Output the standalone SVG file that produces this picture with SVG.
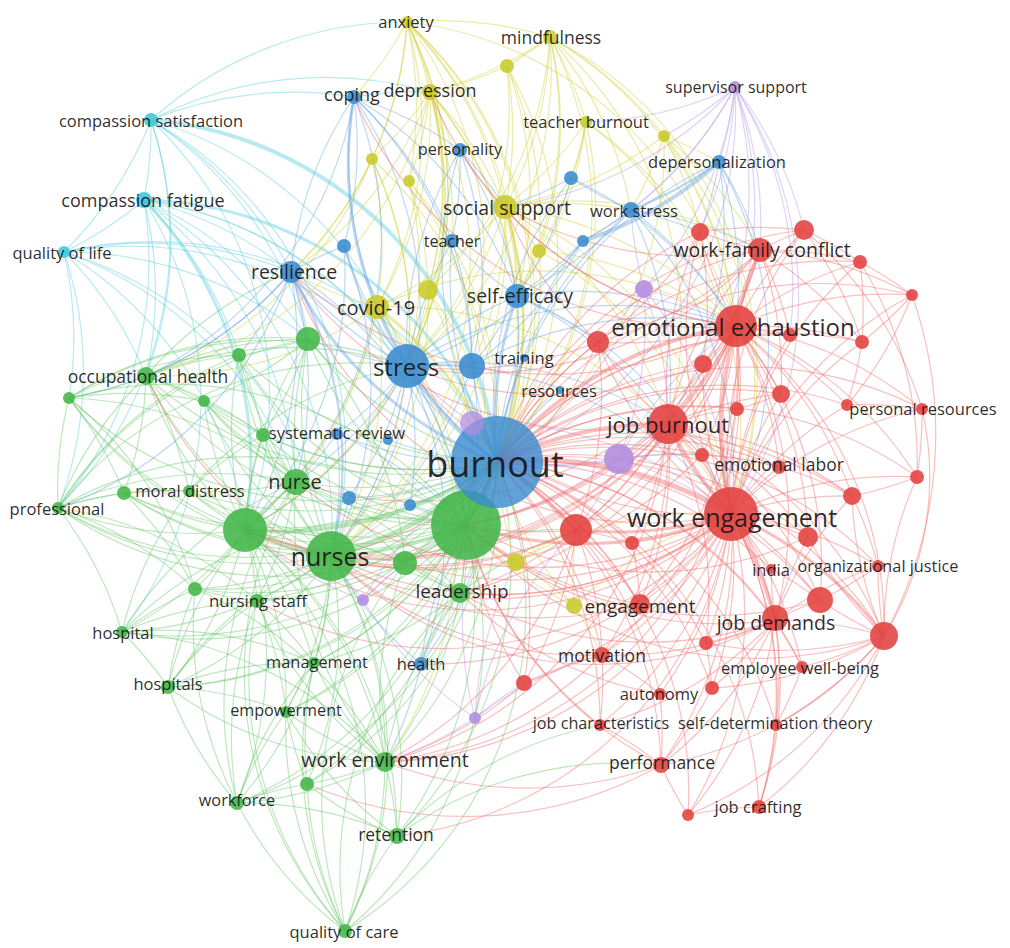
<svg xmlns="http://www.w3.org/2000/svg" width="1010" height="948" viewBox="0 0 1010 948">
<style>
#connectors path{fill:none;stroke-width:1.2;stroke-opacity:.44}
#connectors path.w2{stroke-width:2.2}
#connectors path.w3{stroke-width:3}
#connectors path.w4{stroke-width:4}
#connectors path.w5{stroke-width:5}
.ec path{stroke:#5fcfe0}
.ey path{stroke:#d2d23c}
.ep path{stroke:#b99be6}
.eb path{stroke:#6aa6e2}
.eg path{stroke:#6cc86c}
.er path{stroke:#f26d6d}
circle{fill-opacity:.88}
.nr circle{fill:#e3413f}
.ng circle{fill:#43b649}
.nb circle{fill:#3a8bd0}
.ny circle{fill:#c9c92a}
.np circle{fill:#b08ddf}
.nc circle{fill:#3fc6dc}
text{font-family:"Open Sans","DejaVu Sans",sans-serif;fill:#161616;fill-opacity:.92;text-anchor:middle;dominant-baseline:central}
</style>
<rect width="1010" height="948" fill="#ffffff"/>
<g id="connectors">
<g class="ec">
<path d="M151 120A380 380 0 0 1 144 200"/>
<path d="M151 120A380 380 0 0 1 64 252"/>
<path d="M151 120A380 380 0 0 1 291 272"/>
<path d="M151 120A380 380 0 0 1 407 366"/>
<path d="M151 120A380 380 0 0 1 331 556"/>
<path d="M151 120A380 380 0 0 1 245 530"/>
<path d="M151 120A380 380 0 0 1 146 376"/>
<path d="M151 120A380 380 0 0 1 407 22"/>
<path d="M151 120A380 380 0 0 1 354 97"/>
<path d="M151 120A380 380 0 0 1 430 92"/>
<path d="M151 120A380 380 0 0 1 308 339"/>
<path d="M151 120A380 380 0 0 1 58 508"/>
<path class="w4" d="M151 120A380 380 0 0 1 497 462"/>
<path d="M144 200A380 380 0 0 1 64 252"/>
<path d="M144 200A380 380 0 0 1 331 556"/>
<path d="M144 200A380 380 0 0 1 466 525"/>
<path d="M144 200A380 380 0 0 1 291 272"/>
<path d="M144 200A380 380 0 0 1 407 366"/>
<path d="M144 200A380 380 0 0 1 146 376"/>
<path d="M144 200A380 380 0 0 1 296 482"/>
<path d="M144 200A380 380 0 0 1 308 339"/>
<path d="M144 200A380 380 0 0 1 239 355"/>
<path d="M144 200A380 380 0 0 1 58 508"/>
<path d="M144 200A380 380 0 0 1 122 632"/>
<path class="w3" d="M144 200A380 380 0 0 1 497 462"/>
<path class="w3" d="M144 200A380 380 0 0 1 245 530"/>
<path d="M64 252A380 380 0 0 1 245 530"/>
<path d="M64 252A380 380 0 0 1 331 556"/>
<path d="M64 252A380 380 0 0 1 146 376"/>
<path d="M64 252A380 380 0 0 1 69 398"/>
<path d="M64 252A380 380 0 0 1 291 272"/>
<path d="M64 252A380 380 0 0 1 407 366"/>
<path d="M64 252A380 380 0 0 1 296 482"/>
<path d="M64 252A380 380 0 0 1 58 508"/>
<path d="M64 252A380 380 0 0 1 308 339"/>
<path d="M64 252A380 380 0 0 1 497 462"/>
</g>
<g class="ey">
<path d="M407 22A380 380 0 0 1 430 92"/>
<path d="M407 22A380 380 0 0 1 372 159"/>
<path d="M407 22A380 380 0 0 1 409 181"/>
<path d="M407 22A380 380 0 0 1 428 290"/>
<path d="M407 22A380 380 0 0 1 377 307"/>
<path d="M407 22A380 380 0 0 1 407 366"/>
<path d="M407 22A380 380 0 0 1 354 97"/>
<path d="M407 22A380 380 0 0 1 505 207"/>
<path d="M407 22A380 380 0 0 1 331 556"/>
<path d="M407 22A380 380 0 0 1 550 37"/>
<path d="M407 22A380 380 0 0 1 291 272"/>
<path d="M407 22A380 380 0 0 1 517 296"/>
<path d="M407 22A380 380 0 0 1 466 525"/>
<path d="M407 22A380 380 0 0 1 736 326"/>
<path d="M407 22A380 380 0 0 1 245 530"/>
<path d="M407 22A380 380 0 0 1 497 462"/>
<path d="M550 37A380 380 0 0 1 507 66"/>
<path d="M550 37A380 380 0 0 1 586 122"/>
<path d="M550 37A380 380 0 0 1 505 207"/>
<path d="M550 37A380 380 0 0 1 539 251"/>
<path d="M550 37A380 380 0 0 1 407 366"/>
<path d="M550 37A380 380 0 0 1 430 92"/>
<path d="M550 37A380 380 0 0 1 736 326"/>
<path d="M550 37A380 380 0 0 1 631 210"/>
<path d="M550 37A380 380 0 0 1 664 136"/>
<path d="M550 37A380 380 0 0 1 731 514"/>
<path d="M550 37A380 380 0 0 1 517 296"/>
<path d="M550 37A380 380 0 0 1 428 290"/>
<path d="M550 37A380 380 0 0 1 668 424"/>
<path d="M550 37A380 380 0 0 1 497 462"/>
<path d="M507 66A380 380 0 0 1 505 207"/>
<path d="M507 66A380 380 0 0 1 407 366"/>
<path d="M507 66A380 380 0 0 1 430 92"/>
<path d="M507 66A380 380 0 0 1 539 251"/>
<path d="M507 66A380 380 0 0 1 517 296"/>
<path d="M507 66A380 380 0 0 1 497 462"/>
<path d="M430 92A380 380 0 0 1 372 159"/>
<path d="M430 92A380 380 0 0 1 409 181"/>
<path d="M430 92A380 380 0 0 1 428 290"/>
<path d="M430 92A380 380 0 0 1 377 307"/>
<path d="M430 92A380 380 0 0 1 407 366"/>
<path d="M430 92A380 380 0 0 1 505 207"/>
<path d="M430 92A380 380 0 0 1 331 556"/>
<path d="M430 92A380 380 0 0 1 245 530"/>
<path d="M430 92A380 380 0 0 1 291 272"/>
<path d="M430 92A380 380 0 0 1 466 525"/>
<path d="M430 92A380 380 0 0 1 452 241"/>
<path d="M430 92A380 380 0 0 1 146 376"/>
<path d="M430 92A380 380 0 0 1 497 462"/>
<path d="M586 122A380 380 0 0 1 505 207"/>
<path d="M586 122A380 380 0 0 1 736 326"/>
<path d="M586 122A380 380 0 0 1 539 251"/>
<path d="M586 122A380 380 0 0 1 517 296"/>
<path d="M586 122A380 380 0 0 1 731 514"/>
<path d="M586 122A380 380 0 0 1 571 178"/>
<path d="M586 122A380 380 0 0 1 497 462"/>
<path d="M664 136A380 380 0 0 1 631 210"/>
<path d="M664 136A380 380 0 0 1 719 162"/>
<path d="M664 136A380 380 0 0 1 736 326"/>
<path d="M664 136A380 380 0 0 1 760 250"/>
<path d="M664 136A380 380 0 0 1 505 207"/>
<path d="M664 136A380 380 0 0 1 731 514"/>
<path d="M664 136A380 380 0 0 1 700 232"/>
<path d="M664 136A380 380 0 0 1 497 462"/>
<path d="M372 159A380 380 0 0 1 407 366"/>
<path d="M372 159A380 380 0 0 1 377 307"/>
<path d="M372 159A380 380 0 0 1 291 272"/>
<path d="M372 159A380 380 0 0 1 331 556"/>
<path d="M372 159A380 380 0 0 1 146 376"/>
<path d="M372 159A380 380 0 0 1 497 462"/>
<path d="M409 181A380 380 0 0 1 407 366"/>
<path d="M409 181A380 380 0 0 1 428 290"/>
<path d="M409 181A380 380 0 0 1 466 525"/>
<path d="M409 181A380 380 0 0 1 497 462"/>
<path d="M505 207A380 380 0 0 1 539 251"/>
<path d="M505 207A380 380 0 0 1 517 296"/>
<path d="M505 207A380 380 0 0 1 736 326"/>
<path d="M505 207A380 380 0 0 1 731 514"/>
<path d="M505 207A380 380 0 0 1 377 307"/>
<path d="M505 207A380 380 0 0 1 331 556"/>
<path d="M505 207A380 380 0 0 1 472 366"/>
<path d="M505 207A380 380 0 0 1 407 366"/>
<path d="M505 207A380 380 0 0 1 631 210"/>
<path d="M505 207A380 380 0 0 1 760 250"/>
<path d="M505 207A380 380 0 0 1 668 424"/>
<path d="M505 207A380 380 0 0 1 466 525"/>
<path class="w3" d="M505 207A380 380 0 0 1 497 462"/>
<path d="M539 251A380 380 0 0 1 736 326"/>
<path d="M539 251A380 380 0 0 1 517 296"/>
<path d="M539 251A380 380 0 0 1 731 514"/>
<path d="M539 251A380 380 0 0 1 497 462"/>
<path d="M428 290A380 380 0 0 1 407 366"/>
<path d="M428 290A380 380 0 0 1 466 525"/>
<path d="M428 290A380 380 0 0 1 331 556"/>
<path d="M428 290A380 380 0 0 1 497 462"/>
<path d="M377 307A380 380 0 0 1 407 366"/>
<path d="M377 307A380 380 0 0 1 331 556"/>
<path d="M377 307A380 380 0 0 1 466 525"/>
<path d="M377 307A380 380 0 0 1 245 530"/>
<path d="M377 307A380 380 0 0 1 291 272"/>
<path d="M377 307A380 380 0 0 1 296 482"/>
<path d="M377 307A380 380 0 0 1 731 514"/>
<path d="M377 307A380 380 0 0 1 736 326"/>
<path d="M377 307A380 380 0 0 1 385 762"/>
<path d="M377 307A380 380 0 0 1 146 376"/>
<path class="w3" d="M377 307A380 380 0 0 1 497 462"/>
<path d="M516 562A380 380 0 0 1 466 525"/>
<path d="M516 562A380 380 0 0 1 576 530"/>
<path d="M516 562A380 380 0 0 1 731 514"/>
<path d="M516 562A380 380 0 0 1 331 556"/>
<path d="M516 562A380 380 0 0 1 574 606"/>
<path d="M516 562A380 380 0 0 1 497 462"/>
<path d="M574 606A380 380 0 0 1 731 514"/>
<path d="M574 606A380 380 0 0 1 576 530"/>
<path d="M574 606A380 380 0 0 1 466 525"/>
<path d="M574 606A380 380 0 0 1 640 604"/>
<path d="M574 606A380 380 0 0 1 602 655"/>
<path d="M574 606A380 380 0 0 1 497 462"/>
</g>
<g class="ep">
<path d="M735 87A380 380 0 0 1 719 162"/>
<path d="M735 87A380 380 0 0 1 631 210"/>
<path d="M735 87A380 380 0 0 1 700 232"/>
<path d="M735 87A380 380 0 0 1 760 250"/>
<path d="M735 87A380 380 0 0 1 804 230"/>
<path d="M735 87A380 380 0 0 1 736 326"/>
<path d="M735 87A380 380 0 0 1 790 335"/>
<path d="M735 87A380 380 0 0 1 644 289"/>
<path d="M735 87A380 380 0 0 1 731 514"/>
<path d="M735 87A380 380 0 0 1 668 424"/>
<path d="M735 87A380 380 0 0 1 664 136"/>
<path d="M735 87A380 380 0 0 1 505 207"/>
<path d="M735 87A380 380 0 0 1 583 241"/>
<path d="M735 87A380 380 0 0 1 586 122"/>
<path d="M735 87A380 380 0 0 1 497 462"/>
<path d="M644 289A380 380 0 0 1 736 326"/>
<path d="M644 289A380 380 0 0 1 668 424"/>
<path d="M644 289A380 380 0 0 1 631 210"/>
<path d="M644 289A380 380 0 0 1 619 459"/>
<path d="M644 289A380 380 0 0 1 731 514"/>
<path d="M644 289A380 380 0 0 1 598 342"/>
<path d="M644 289A380 380 0 0 1 497 462"/>
<path d="M472 423A380 380 0 0 1 466 525"/>
<path d="M472 423A380 380 0 0 1 407 366"/>
<path d="M472 423A380 380 0 0 1 731 514"/>
<path d="M472 423A380 380 0 0 1 331 556"/>
<path d="M619 459A380 380 0 0 1 668 424"/>
<path d="M619 459A380 380 0 0 1 731 514"/>
<path d="M619 459A380 380 0 0 1 736 326"/>
<path d="M619 459A380 380 0 0 1 576 530"/>
<path d="M619 459A380 380 0 0 1 466 525"/>
<path d="M619 459A380 380 0 0 1 702 455"/>
<path d="M619 459A380 380 0 0 1 779 467"/>
<path class="w3" d="M619 459A380 380 0 0 1 497 462"/>
<path d="M363 600A380 380 0 0 1 331 556"/>
<path d="M363 600A380 380 0 0 1 466 525"/>
<path d="M363 600A380 380 0 0 1 405 563"/>
<path d="M363 600A380 380 0 0 1 245 530"/>
<path d="M363 600A380 380 0 0 1 497 462"/>
<path d="M475 718A380 380 0 0 1 363 600"/>
<path d="M475 718A380 380 0 0 1 524 683"/>
<path d="M475 718A380 380 0 0 1 385 762"/>
<path d="M475 718A380 380 0 0 1 602 655"/>
<path d="M475 718A380 380 0 0 1 576 530"/>
<path d="M475 718A380 380 0 0 1 516 562"/>
<path d="M475 718A380 380 0 0 1 497 462"/>
</g>
<g class="eb">
<path d="M497 462A380 380 0 0 1 472 366"/>
<path d="M497 462A380 380 0 0 1 524 358"/>
<path class="w3" d="M497 462A380 380 0 0 1 517 296"/>
<path class="w3" d="M497 462A380 380 0 0 1 291 272"/>
<path d="M497 462A380 380 0 0 1 354 97"/>
<path d="M497 462A380 380 0 0 1 460 150"/>
<path d="M497 462A380 380 0 0 1 631 210"/>
<path d="M497 462A380 380 0 0 1 452 241"/>
<path d="M497 462A380 380 0 0 1 719 162"/>
<path d="M497 462A380 380 0 0 1 571 178"/>
<path d="M497 462A380 380 0 0 1 344 246"/>
<path d="M497 462A380 380 0 0 1 583 241"/>
<path d="M497 462A380 380 0 0 1 337 434"/>
<path d="M497 462A380 380 0 0 1 388 440"/>
<path d="M497 462A380 380 0 0 1 349 498"/>
<path d="M497 462A380 380 0 0 1 410 505"/>
<path d="M497 462A380 380 0 0 1 421 664"/>
<path d="M497 462A380 380 0 0 1 560 390"/>
<path class="w4" d="M497 462A380 380 0 0 1 407 366"/>
<path d="M407 366A380 380 0 0 1 291 272"/>
<path class="w3" d="M407 366A380 380 0 0 1 354 97"/>
<path d="M407 366A380 380 0 0 1 460 150"/>
<path d="M407 366A380 380 0 0 1 452 241"/>
<path d="M407 366A380 380 0 0 1 344 246"/>
<path d="M407 366A380 380 0 0 1 517 296"/>
<path d="M407 366A380 380 0 0 1 472 366"/>
<path d="M407 366A380 380 0 0 1 337 434"/>
<path d="M407 366A380 380 0 0 1 349 498"/>
<path d="M407 366A380 380 0 0 1 410 505"/>
<path d="M407 366A380 380 0 0 1 421 664"/>
<path d="M407 366A380 380 0 0 1 296 482"/>
<path d="M407 366A380 380 0 0 1 245 530"/>
<path d="M407 366A380 380 0 0 1 331 556"/>
<path d="M407 366A380 380 0 0 1 466 525"/>
<path d="M407 366A380 380 0 0 1 308 339"/>
<path d="M407 366A380 380 0 0 1 736 326"/>
<path d="M407 366A380 380 0 0 1 731 514"/>
<path d="M407 366A380 380 0 0 1 668 424"/>
<path d="M291 272A380 380 0 0 1 354 97"/>
<path d="M291 272A380 380 0 0 1 344 246"/>
<path d="M291 272A380 380 0 0 1 308 339"/>
<path d="M291 272A380 380 0 0 1 239 355"/>
<path d="M291 272A380 380 0 0 1 146 376"/>
<path class="w2" d="M291 272A380 380 0 0 1 331 556"/>
<path d="M291 272A380 380 0 0 1 466 525"/>
<path d="M291 272A380 380 0 0 1 296 482"/>
<path d="M291 272A380 380 0 0 1 245 530"/>
<path d="M291 272A380 380 0 0 1 69 398"/>
<path d="M291 272A380 380 0 0 1 58 508"/>
<path d="M354 97A380 380 0 0 1 460 150"/>
<path d="M354 97A380 380 0 0 1 452 241"/>
<path d="M354 97A380 380 0 0 1 344 246"/>
<path d="M354 97A380 380 0 0 1 430 92"/>
<path d="M354 97A380 380 0 0 1 517 296"/>
<path d="M354 97A380 380 0 0 1 331 556"/>
<path d="M354 97A380 380 0 0 1 472 366"/>
<path d="M354 97A380 380 0 0 1 245 530"/>
<path d="M354 97A380 380 0 0 1 146 376"/>
<path d="M344 246A380 380 0 0 1 331 556"/>
<path d="M344 246A380 380 0 0 1 245 530"/>
<path d="M460 150A380 380 0 0 1 452 241"/>
<path d="M460 150A380 380 0 0 1 517 296"/>
<path d="M460 150A380 380 0 0 1 505 207"/>
<path d="M460 150A380 380 0 0 1 472 366"/>
<path class="w4" d="M719 162A380 380 0 0 1 583 241"/>
<path class="w2" d="M719 162A380 380 0 0 1 631 210"/>
<path d="M719 162A380 380 0 0 1 760 250"/>
<path d="M719 162A380 380 0 0 1 736 326"/>
<path d="M719 162A380 380 0 0 1 700 232"/>
<path d="M719 162A380 380 0 0 1 731 514"/>
<path d="M719 162A380 380 0 0 1 668 424"/>
<path d="M631 210A380 380 0 0 1 583 241"/>
<path d="M631 210A380 380 0 0 1 571 178"/>
<path d="M631 210A380 380 0 0 1 760 250"/>
<path d="M631 210A380 380 0 0 1 700 232"/>
<path d="M631 210A380 380 0 0 1 736 326"/>
<path d="M631 210A380 380 0 0 1 731 514"/>
<path d="M631 210A380 380 0 0 1 668 424"/>
<path d="M631 210A380 380 0 0 1 517 296"/>
<path d="M583 241A380 380 0 0 1 517 296"/>
<path d="M583 241A380 380 0 0 1 472 366"/>
<path d="M583 241A380 380 0 0 1 407 366"/>
<path d="M571 178A380 380 0 0 1 517 296"/>
<path d="M571 178A380 380 0 0 1 505 207"/>
<path d="M571 178A380 380 0 0 1 736 326"/>
<path d="M517 296A380 380 0 0 1 472 366"/>
<path d="M517 296A380 380 0 0 1 452 241"/>
<path d="M517 296A380 380 0 0 1 736 326"/>
<path d="M517 296A380 380 0 0 1 731 514"/>
<path d="M517 296A380 380 0 0 1 668 424"/>
<path d="M517 296A380 380 0 0 1 466 525"/>
<path d="M517 296A380 380 0 0 1 598 342"/>
<path d="M452 241A380 380 0 0 1 472 366"/>
<path d="M472 366A380 380 0 0 1 466 525"/>
<path d="M472 366A380 380 0 0 1 736 326"/>
<path d="M472 366A380 380 0 0 1 331 556"/>
<path d="M421 664A380 380 0 0 1 331 556"/>
<path d="M421 664A380 380 0 0 1 466 525"/>
<path d="M421 664A380 380 0 0 1 385 762"/>
<path d="M421 664A380 380 0 0 1 460 593"/>
<path d="M337 434A380 380 0 0 1 296 482"/>
<path d="M337 434A380 380 0 0 1 331 556"/>
<path d="M337 434A380 380 0 0 1 466 525"/>
<path d="M349 498A380 380 0 0 1 331 556"/>
<path d="M410 505A380 380 0 0 1 466 525"/>
</g>
<g class="eg">
<path d="M497 462A380 380 0 0 1 308 339"/>
<path d="M497 462A380 380 0 0 1 239 355"/>
<path d="M497 462A380 380 0 0 1 146 376"/>
<path d="M497 462A380 380 0 0 1 69 398"/>
<path d="M497 462A380 380 0 0 1 204 401"/>
<path d="M497 462A380 380 0 0 1 263 435"/>
<path d="M497 462A380 380 0 0 1 124 493"/>
<path d="M497 462A380 380 0 0 1 189 491"/>
<path d="M497 462A380 380 0 0 1 58 508"/>
<path d="M497 462A380 380 0 0 1 296 482"/>
<path d="M497 462A380 380 0 0 1 405 563"/>
<path d="M497 462A380 380 0 0 1 460 593"/>
<path d="M497 462A380 380 0 0 1 195 589"/>
<path d="M497 462A380 380 0 0 1 257 601"/>
<path d="M497 462A380 380 0 0 1 122 632"/>
<path d="M497 462A380 380 0 0 1 314 663"/>
<path d="M497 462A380 380 0 0 1 168 687"/>
<path d="M497 462A380 380 0 0 1 286 712"/>
<path d="M497 462A380 380 0 0 1 385 762"/>
<path d="M497 462A380 380 0 0 1 307 784"/>
<path d="M497 462A380 380 0 0 1 237 803"/>
<path d="M497 462A380 380 0 0 1 397 836"/>
<path d="M497 462A380 380 0 0 1 345 931"/>
<path class="w4" d="M497 462A380 380 0 0 1 245 530"/>
<path class="w5" d="M497 462A380 380 0 0 1 331 556"/>
<path class="w4" d="M497 462A380 380 0 0 1 466 525"/>
<path d="M466 525A380 380 0 0 1 308 339"/>
<path d="M466 525A380 380 0 0 1 239 355"/>
<path d="M466 525A380 380 0 0 1 146 376"/>
<path d="M466 525A380 380 0 0 1 204 401"/>
<path d="M466 525A380 380 0 0 1 263 435"/>
<path d="M466 525A380 380 0 0 1 124 493"/>
<path d="M466 525A380 380 0 0 1 189 491"/>
<path d="M466 525A380 380 0 0 1 58 508"/>
<path d="M466 525A380 380 0 0 1 296 482"/>
<path d="M466 525A380 380 0 0 1 245 530"/>
<path class="w3" d="M466 525A380 380 0 0 1 331 556"/>
<path d="M466 525A380 380 0 0 1 405 563"/>
<path d="M466 525A380 380 0 0 1 460 593"/>
<path d="M466 525A380 380 0 0 1 195 589"/>
<path d="M466 525A380 380 0 0 1 257 601"/>
<path d="M466 525A380 380 0 0 1 122 632"/>
<path d="M466 525A380 380 0 0 1 314 663"/>
<path d="M466 525A380 380 0 0 1 168 687"/>
<path d="M466 525A380 380 0 0 1 286 712"/>
<path d="M466 525A380 380 0 0 1 385 762"/>
<path d="M466 525A380 380 0 0 1 307 784"/>
<path d="M466 525A380 380 0 0 1 237 803"/>
<path d="M466 525A380 380 0 0 1 397 836"/>
<path d="M466 525A380 380 0 0 1 345 931"/>
<path d="M331 556A380 380 0 0 1 308 339"/>
<path d="M331 556A380 380 0 0 1 239 355"/>
<path d="M331 556A380 380 0 0 1 146 376"/>
<path d="M331 556A380 380 0 0 1 69 398"/>
<path d="M331 556A380 380 0 0 1 204 401"/>
<path d="M331 556A380 380 0 0 1 263 435"/>
<path d="M331 556A380 380 0 0 1 124 493"/>
<path d="M331 556A380 380 0 0 1 189 491"/>
<path d="M331 556A380 380 0 0 1 58 508"/>
<path d="M331 556A380 380 0 0 1 296 482"/>
<path class="w3" d="M331 556A380 380 0 0 1 245 530"/>
<path d="M331 556A380 380 0 0 1 405 563"/>
<path d="M331 556A380 380 0 0 1 460 593"/>
<path d="M331 556A380 380 0 0 1 195 589"/>
<path d="M331 556A380 380 0 0 1 257 601"/>
<path d="M331 556A380 380 0 0 1 122 632"/>
<path d="M331 556A380 380 0 0 1 314 663"/>
<path d="M331 556A380 380 0 0 1 168 687"/>
<path d="M331 556A380 380 0 0 1 286 712"/>
<path d="M331 556A380 380 0 0 1 385 762"/>
<path d="M331 556A380 380 0 0 1 307 784"/>
<path d="M331 556A380 380 0 0 1 237 803"/>
<path d="M331 556A380 380 0 0 1 397 836"/>
<path d="M331 556A380 380 0 0 1 345 931"/>
<path d="M245 530A380 380 0 0 1 308 339"/>
<path d="M245 530A380 380 0 0 1 239 355"/>
<path d="M245 530A380 380 0 0 1 146 376"/>
<path d="M245 530A380 380 0 0 1 69 398"/>
<path d="M245 530A380 380 0 0 1 204 401"/>
<path d="M245 530A380 380 0 0 1 263 435"/>
<path d="M245 530A380 380 0 0 1 124 493"/>
<path d="M245 530A380 380 0 0 1 189 491"/>
<path d="M245 530A380 380 0 0 1 58 508"/>
<path d="M245 530A380 380 0 0 1 296 482"/>
<path d="M245 530A380 380 0 0 1 195 589"/>
<path d="M245 530A380 380 0 0 1 257 601"/>
<path d="M245 530A380 380 0 0 1 122 632"/>
<path d="M245 530A380 380 0 0 1 314 663"/>
<path d="M245 530A380 380 0 0 1 168 687"/>
<path d="M245 530A380 380 0 0 1 286 712"/>
<path d="M245 530A380 380 0 0 1 385 762"/>
<path d="M245 530A380 380 0 0 1 237 803"/>
<path d="M245 530A380 380 0 0 1 397 836"/>
<path d="M245 530A380 380 0 0 1 345 931"/>
<path d="M245 530A380 380 0 0 1 405 563"/>
<path d="M245 530A380 380 0 0 1 460 593"/>
<path d="M385 762A380 380 0 0 1 397 836"/>
<path d="M385 762A380 380 0 0 1 345 931"/>
<path d="M385 762A380 380 0 0 1 237 803"/>
<path d="M385 762A380 380 0 0 1 307 784"/>
<path d="M385 762A380 380 0 0 1 286 712"/>
<path d="M385 762A380 380 0 0 1 314 663"/>
<path d="M385 762A380 380 0 0 1 257 601"/>
<path d="M385 762A380 380 0 0 1 460 593"/>
<path d="M385 762A380 380 0 0 1 405 563"/>
<path d="M385 762A380 380 0 0 1 296 482"/>
<path d="M385 762A380 380 0 0 1 168 687"/>
<path d="M58 508A380 380 0 0 1 146 376"/>
<path d="M58 508A380 380 0 0 1 189 491"/>
<path d="M58 508A380 380 0 0 1 195 589"/>
<path d="M58 508A380 380 0 0 1 69 398"/>
<path d="M58 508A380 380 0 0 1 124 493"/>
<path d="M58 508A380 380 0 0 1 296 482"/>
<path d="M58 508A380 380 0 0 1 308 339"/>
<path d="M58 508A380 380 0 0 1 239 355"/>
<path d="M58 508A380 380 0 0 1 122 632"/>
<path d="M58 508A380 380 0 0 1 257 601"/>
<path d="M58 508A380 380 0 0 1 407 366"/>
<path d="M58 508A380 380 0 0 1 466 525"/>
<path d="M146 376A380 380 0 0 1 69 398"/>
<path d="M146 376A380 380 0 0 1 239 355"/>
<path d="M146 376A380 380 0 0 1 204 401"/>
<path d="M146 376A380 380 0 0 1 308 339"/>
<path d="M146 376A380 380 0 0 1 296 482"/>
<path d="M146 376A380 380 0 0 1 263 435"/>
<path d="M146 376A380 380 0 0 1 124 493"/>
<path d="M146 376A380 380 0 0 1 189 491"/>
<path d="M146 376A380 380 0 0 1 407 366"/>
<path d="M146 376A380 380 0 0 1 291 272"/>
<path d="M69 398A380 380 0 0 1 204 401"/>
<path d="M69 398A380 380 0 0 1 308 339"/>
<path d="M69 398A380 380 0 0 1 239 355"/>
<path d="M69 398A380 380 0 0 1 296 482"/>
<path d="M69 398A380 380 0 0 1 124 493"/>
<path d="M69 398A380 380 0 0 1 195 589"/>
<path d="M69 398A380 380 0 0 1 466 525"/>
<path d="M69 398A380 380 0 0 1 407 366"/>
<path d="M345 931A380 380 0 0 1 397 836"/>
<path d="M345 931A380 380 0 0 1 237 803"/>
<path d="M345 931A380 380 0 0 1 307 784"/>
<path d="M345 931A380 380 0 0 1 257 601"/>
<path d="M345 931A380 380 0 0 1 296 482"/>
<path d="M345 931A380 380 0 0 1 405 563"/>
<path d="M345 931A380 380 0 0 1 460 593"/>
<path d="M345 931A380 380 0 0 1 314 663"/>
<path d="M345 931A380 380 0 0 1 286 712"/>
<path d="M237 803A380 380 0 0 1 397 836"/>
<path d="M237 803A380 380 0 0 1 307 784"/>
<path d="M237 803A380 380 0 0 1 286 712"/>
<path d="M237 803A380 380 0 0 1 168 687"/>
<path d="M237 803A380 380 0 0 1 257 601"/>
<path d="M237 803A380 380 0 0 1 195 589"/>
<path d="M237 803A380 380 0 0 1 314 663"/>
<path d="M237 803A380 380 0 0 1 296 482"/>
<path d="M122 632A380 380 0 0 1 195 589"/>
<path d="M122 632A380 380 0 0 1 257 601"/>
<path d="M122 632A380 380 0 0 1 168 687"/>
<path d="M122 632A380 380 0 0 1 296 482"/>
<path d="M122 632A380 380 0 0 1 314 663"/>
<path d="M122 632A380 380 0 0 1 189 491"/>
<path d="M122 632A380 380 0 0 1 466 525"/>
<path d="M122 632A380 380 0 0 1 385 762"/>
<path d="M168 687A380 380 0 0 1 195 589"/>
<path d="M168 687A380 380 0 0 1 257 601"/>
<path d="M168 687A380 380 0 0 1 314 663"/>
<path d="M168 687A380 380 0 0 1 286 712"/>
<path d="M168 687A380 380 0 0 1 296 482"/>
<path d="M168 687A380 380 0 0 1 466 525"/>
<path d="M296 482A380 380 0 0 1 308 339"/>
<path d="M296 482A380 380 0 0 1 239 355"/>
<path d="M296 482A380 380 0 0 1 263 435"/>
<path d="M296 482A380 380 0 0 1 204 401"/>
<path d="M296 482A380 380 0 0 1 189 491"/>
<path d="M296 482A380 380 0 0 1 405 563"/>
<path d="M296 482A380 380 0 0 1 257 601"/>
<path d="M296 482A380 380 0 0 1 460 593"/>
<path d="M308 339A380 380 0 0 1 239 355"/>
<path d="M308 339A380 380 0 0 1 204 401"/>
<path d="M308 339A380 380 0 0 1 263 435"/>
<path d="M308 339A380 380 0 0 1 405 563"/>
<path d="M257 601A380 380 0 0 1 314 663"/>
<path d="M257 601A380 380 0 0 1 195 589"/>
<path d="M257 601A380 380 0 0 1 286 712"/>
<path d="M460 593A380 380 0 0 1 405 563"/>
<path d="M460 593A380 380 0 0 1 314 663"/>
<path d="M460 593A380 380 0 0 1 576 530"/>
<path d="M405 563A380 380 0 0 1 576 530"/>
<path d="M397 836A380 380 0 0 1 307 784"/>
<path d="M397 836A380 380 0 0 1 286 712"/>
<path d="M397 836A380 380 0 0 1 600 725"/>
<path d="M397 836A380 380 0 0 1 661 765"/>
<path d="M307 784A380 380 0 0 1 286 712"/>
<path d="M307 784A380 380 0 0 1 314 663"/>
<path d="M286 712A380 380 0 0 1 314 663"/>
<path d="M124 493A380 380 0 0 1 189 491"/>
<path d="M124 493A380 380 0 0 1 195 589"/>
<path d="M189 491A380 380 0 0 1 263 435"/>
<path d="M189 491A380 380 0 0 1 407 366"/>
<path d="M195 589A380 380 0 0 1 385 762"/>
<path d="M204 401A380 380 0 0 1 263 435"/>
<path d="M239 355A380 380 0 0 1 263 435"/>
</g>
<g class="er">
<path d="M497 462A380 380 0 0 1 598 342"/>
<path d="M497 462A380 380 0 0 1 760 250"/>
<path d="M497 462A380 380 0 0 1 700 232"/>
<path d="M497 462A380 380 0 0 1 804 230"/>
<path d="M497 462A380 380 0 0 1 860 262"/>
<path d="M497 462A380 380 0 0 1 912 295"/>
<path d="M497 462A380 380 0 0 1 862 342"/>
<path d="M497 462A380 380 0 0 1 790 335"/>
<path d="M497 462A380 380 0 0 1 703 364"/>
<path d="M497 462A380 380 0 0 1 781 394"/>
<path d="M497 462A380 380 0 0 1 737 409"/>
<path d="M497 462A380 380 0 0 1 847 405"/>
<path d="M497 462A380 380 0 0 1 922 409"/>
<path d="M497 462A380 380 0 0 1 702 455"/>
<path d="M497 462A380 380 0 0 1 779 467"/>
<path d="M497 462A380 380 0 0 1 917 477"/>
<path d="M497 462A380 380 0 0 1 852 496"/>
<path d="M497 462A380 380 0 0 1 632 543"/>
<path d="M497 462A380 380 0 0 1 808 537"/>
<path d="M497 462A380 380 0 0 1 771 569"/>
<path d="M497 462A380 380 0 0 1 878 566"/>
<path d="M497 462A380 380 0 0 1 820 600"/>
<path d="M497 462A380 380 0 0 1 884 636"/>
<path d="M497 462A380 380 0 0 1 775 620"/>
<path d="M497 462A380 380 0 0 1 706 643"/>
<path d="M497 462A380 380 0 0 1 802 667"/>
<path d="M497 462A380 380 0 0 1 712 688"/>
<path d="M497 462A380 380 0 0 1 660 694"/>
<path d="M497 462A380 380 0 0 1 602 655"/>
<path d="M497 462A380 380 0 0 1 524 683"/>
<path d="M497 462A380 380 0 0 1 600 725"/>
<path d="M497 462A380 380 0 0 1 776 725"/>
<path d="M497 462A380 380 0 0 1 661 765"/>
<path d="M497 462A380 380 0 0 1 688 815"/>
<path d="M497 462A380 380 0 0 1 759 807"/>
<path d="M497 462A380 380 0 0 1 640 604"/>
<path class="w4" d="M497 462A380 380 0 0 1 736 326"/>
<path class="w4" d="M497 462A380 380 0 0 1 668 424"/>
<path class="w5" d="M497 462A380 380 0 0 1 731 514"/>
<path class="w3" d="M497 462A380 380 0 0 1 576 530"/>
<path d="M731 514A380 380 0 0 1 598 342"/>
<path d="M731 514A380 380 0 0 1 760 250"/>
<path d="M731 514A380 380 0 0 1 700 232"/>
<path d="M731 514A380 380 0 0 1 804 230"/>
<path d="M731 514A380 380 0 0 1 860 262"/>
<path d="M731 514A380 380 0 0 1 912 295"/>
<path d="M731 514A380 380 0 0 1 862 342"/>
<path d="M731 514A380 380 0 0 1 790 335"/>
<path d="M731 514A380 380 0 0 1 703 364"/>
<path d="M731 514A380 380 0 0 1 781 394"/>
<path d="M731 514A380 380 0 0 1 737 409"/>
<path d="M731 514A380 380 0 0 1 847 405"/>
<path d="M731 514A380 380 0 0 1 922 409"/>
<path d="M731 514A380 380 0 0 1 702 455"/>
<path d="M731 514A380 380 0 0 1 779 467"/>
<path d="M731 514A380 380 0 0 1 917 477"/>
<path d="M731 514A380 380 0 0 1 852 496"/>
<path d="M731 514A380 380 0 0 1 632 543"/>
<path d="M731 514A380 380 0 0 1 808 537"/>
<path d="M731 514A380 380 0 0 1 771 569"/>
<path d="M731 514A380 380 0 0 1 878 566"/>
<path d="M731 514A380 380 0 0 1 820 600"/>
<path d="M731 514A380 380 0 0 1 706 643"/>
<path d="M731 514A380 380 0 0 1 802 667"/>
<path d="M731 514A380 380 0 0 1 712 688"/>
<path d="M731 514A380 380 0 0 1 660 694"/>
<path d="M731 514A380 380 0 0 1 602 655"/>
<path d="M731 514A380 380 0 0 1 524 683"/>
<path d="M731 514A380 380 0 0 1 600 725"/>
<path d="M731 514A380 380 0 0 1 776 725"/>
<path d="M731 514A380 380 0 0 1 661 765"/>
<path d="M731 514A380 380 0 0 1 688 815"/>
<path d="M731 514A380 380 0 0 1 759 807"/>
<path d="M731 514A380 380 0 0 1 640 604"/>
<path class="w3" d="M731 514A380 380 0 0 1 576 530"/>
<path class="w4" d="M731 514A380 380 0 0 1 736 326"/>
<path class="w4" d="M731 514A380 380 0 0 1 668 424"/>
<path class="w3" d="M731 514A380 380 0 0 1 884 636"/>
<path class="w4" d="M731 514A380 380 0 0 1 775 620"/>
<path class="w3" d="M731 514A380 380 0 0 1 466 525"/>
<path d="M731 514A380 380 0 0 1 331 556"/>
<path d="M731 514A380 380 0 0 1 407 366"/>
<path d="M731 514A380 380 0 0 1 245 530"/>
<path d="M731 514A380 380 0 0 1 385 762"/>
<path d="M731 514A380 380 0 0 1 146 376"/>
<path d="M731 514A380 380 0 0 1 296 482"/>
<path d="M731 514A380 380 0 0 1 257 601"/>
<path d="M731 514A380 380 0 0 1 460 593"/>
<path d="M731 514A380 380 0 0 1 405 563"/>
<path d="M731 514A380 380 0 0 1 291 272"/>
<path d="M731 514A380 380 0 0 1 421 664"/>
<path d="M731 514A380 380 0 0 1 397 836"/>
<path d="M736 326A380 380 0 0 1 598 342"/>
<path class="w3" d="M736 326A380 380 0 0 1 760 250"/>
<path d="M736 326A380 380 0 0 1 700 232"/>
<path d="M736 326A380 380 0 0 1 804 230"/>
<path d="M736 326A380 380 0 0 1 860 262"/>
<path d="M736 326A380 380 0 0 1 912 295"/>
<path d="M736 326A380 380 0 0 1 862 342"/>
<path d="M736 326A380 380 0 0 1 790 335"/>
<path d="M736 326A380 380 0 0 1 703 364"/>
<path d="M736 326A380 380 0 0 1 781 394"/>
<path d="M736 326A380 380 0 0 1 737 409"/>
<path d="M736 326A380 380 0 0 1 847 405"/>
<path d="M736 326A380 380 0 0 1 922 409"/>
<path class="w3" d="M736 326A380 380 0 0 1 668 424"/>
<path d="M736 326A380 380 0 0 1 702 455"/>
<path d="M736 326A380 380 0 0 1 779 467"/>
<path d="M736 326A380 380 0 0 1 917 477"/>
<path d="M736 326A380 380 0 0 1 852 496"/>
<path d="M736 326A380 380 0 0 1 576 530"/>
<path d="M736 326A380 380 0 0 1 808 537"/>
<path d="M736 326A380 380 0 0 1 820 600"/>
<path d="M736 326A380 380 0 0 1 884 636"/>
<path d="M736 326A380 380 0 0 1 775 620"/>
<path d="M736 326A380 380 0 0 1 640 604"/>
<path d="M736 326A380 380 0 0 1 602 655"/>
<path d="M736 326A380 380 0 0 1 466 525"/>
<path d="M736 326A380 380 0 0 1 331 556"/>
<path d="M736 326A380 380 0 0 1 291 272"/>
<path d="M736 326A380 380 0 0 1 245 530"/>
<path d="M736 326A380 380 0 0 1 296 482"/>
<path d="M736 326A380 380 0 0 1 460 593"/>
<path d="M736 326A380 380 0 0 1 385 762"/>
<path d="M736 326A380 380 0 0 1 354 97"/>
<path d="M736 326A380 380 0 0 1 430 92"/>
<path d="M736 326A380 380 0 0 1 460 150"/>
<path d="M668 424A380 380 0 0 1 598 342"/>
<path d="M668 424A380 380 0 0 1 760 250"/>
<path d="M668 424A380 380 0 0 1 700 232"/>
<path d="M668 424A380 380 0 0 1 703 364"/>
<path d="M668 424A380 380 0 0 1 781 394"/>
<path d="M668 424A380 380 0 0 1 737 409"/>
<path d="M668 424A380 380 0 0 1 702 455"/>
<path d="M668 424A380 380 0 0 1 779 467"/>
<path d="M668 424A380 380 0 0 1 576 530"/>
<path d="M668 424A380 380 0 0 1 632 543"/>
<path d="M668 424A380 380 0 0 1 808 537"/>
<path d="M668 424A380 380 0 0 1 820 600"/>
<path d="M668 424A380 380 0 0 1 884 636"/>
<path d="M668 424A380 380 0 0 1 775 620"/>
<path d="M668 424A380 380 0 0 1 706 643"/>
<path d="M668 424A380 380 0 0 1 602 655"/>
<path d="M668 424A380 380 0 0 1 640 604"/>
<path d="M668 424A380 380 0 0 1 852 496"/>
<path d="M668 424A380 380 0 0 1 466 525"/>
<path d="M668 424A380 380 0 0 1 331 556"/>
<path d="M668 424A380 380 0 0 1 245 530"/>
<path d="M668 424A380 380 0 0 1 291 272"/>
<path d="M668 424A380 380 0 0 1 460 593"/>
<path d="M668 424A380 380 0 0 1 385 762"/>
<path d="M775 620A380 380 0 0 1 820 600"/>
<path d="M775 620A380 380 0 0 1 884 636"/>
<path d="M775 620A380 380 0 0 1 802 667"/>
<path d="M775 620A380 380 0 0 1 712 688"/>
<path d="M775 620A380 380 0 0 1 776 725"/>
<path d="M775 620A380 380 0 0 1 759 807"/>
<path d="M775 620A380 380 0 0 1 602 655"/>
<path d="M775 620A380 380 0 0 1 661 765"/>
<path d="M775 620A380 380 0 0 1 808 537"/>
<path d="M775 620A380 380 0 0 1 878 566"/>
<path d="M775 620A380 380 0 0 1 852 496"/>
<path d="M775 620A380 380 0 0 1 706 643"/>
<path d="M775 620A380 380 0 0 1 600 725"/>
<path d="M775 620A380 380 0 0 1 771 569"/>
<path d="M775 620A380 380 0 0 1 688 815"/>
<path d="M775 620A380 380 0 0 1 466 525"/>
<path d="M775 620A380 380 0 0 1 331 556"/>
<path d="M775 620A380 380 0 0 1 460 593"/>
<path d="M884 636A380 380 0 0 1 820 600"/>
<path d="M884 636A380 380 0 0 1 878 566"/>
<path d="M884 636A380 380 0 0 1 802 667"/>
<path d="M884 636A380 380 0 0 1 852 496"/>
<path d="M884 636A380 380 0 0 1 808 537"/>
<path d="M884 636A380 380 0 0 1 917 477"/>
<path d="M884 636A380 380 0 0 1 776 725"/>
<path d="M884 636A380 380 0 0 1 759 807"/>
<path d="M884 636A380 380 0 0 1 661 765"/>
<path d="M884 636A380 380 0 0 1 688 815"/>
<path d="M884 636A380 380 0 0 1 712 688"/>
<path d="M884 636A380 380 0 0 1 706 643"/>
<path d="M884 636A380 380 0 0 1 466 525"/>
<path d="M820 600A380 380 0 0 1 466 525"/>
<path d="M808 537A380 380 0 0 1 466 525"/>
<path d="M912 295A420 420 0 0 1 884 636"/>
<path d="M922 409A300 300 0 0 1 884 636"/>
<path d="M804 230A380 380 0 0 1 922 409"/>
<path d="M860 262A380 380 0 0 1 917 477"/>
<path d="M760 250A380 380 0 0 1 700 232"/>
<path d="M760 250A380 380 0 0 1 804 230"/>
<path d="M760 250A380 380 0 0 1 860 262"/>
<path d="M760 250A380 380 0 0 1 790 335"/>
<path d="M760 250A380 380 0 0 1 703 364"/>
<path d="M760 250A380 380 0 0 1 781 394"/>
<path d="M760 250A380 380 0 0 1 862 342"/>
<path d="M760 250A380 380 0 0 1 912 295"/>
<path d="M760 250A380 380 0 0 1 598 342"/>
<path d="M760 250A380 380 0 0 1 407 366"/>
<path d="M760 250A380 380 0 0 1 466 525"/>
<path d="M760 250A380 380 0 0 1 505 207"/>
<path d="M700 232A380 380 0 0 1 804 230"/>
<path d="M700 232A380 380 0 0 1 598 342"/>
<path d="M700 232A380 380 0 0 1 703 364"/>
<path d="M804 230A380 380 0 0 1 860 262"/>
<path d="M804 230A380 380 0 0 1 862 342"/>
<path d="M860 262A380 380 0 0 1 912 295"/>
<path d="M860 262A380 380 0 0 1 862 342"/>
<path d="M912 295A380 380 0 0 1 862 342"/>
<path d="M912 295A380 380 0 0 1 847 405"/>
<path d="M862 342A380 380 0 0 1 847 405"/>
<path d="M847 405A380 380 0 0 1 922 409"/>
<path d="M922 409A380 380 0 0 1 917 477"/>
<path d="M917 477A380 380 0 0 1 852 496"/>
<path d="M852 496A380 380 0 0 1 878 566"/>
<path d="M878 566A380 380 0 0 1 820 600"/>
<path d="M776 725A380 380 0 0 1 759 807"/>
<path d="M802 667A380 380 0 0 1 776 725"/>
<path d="M712 688A380 380 0 0 1 661 765"/>
<path d="M660 694A380 380 0 0 1 661 765"/>
<path d="M600 725A380 380 0 0 1 661 765"/>
<path d="M688 815A380 380 0 0 1 661 765"/>
<path d="M688 815A380 380 0 0 1 759 807"/>
<path d="M602 655A380 380 0 0 1 600 725"/>
<path d="M602 655A380 380 0 0 1 660 694"/>
<path d="M524 683A380 380 0 0 1 602 655"/>
<path d="M706 643A380 380 0 0 1 712 688"/>
<path d="M702 455A380 380 0 0 1 779 467"/>
<path d="M781 394A380 380 0 0 1 737 409"/>
<path d="M779 467A380 380 0 0 1 852 496"/>
<path d="M771 569A380 380 0 0 1 820 600"/>
<path d="M632 543A380 380 0 0 1 640 604"/>
<path d="M576 530A380 380 0 0 1 466 525"/>
<path d="M576 530A380 380 0 0 1 602 655"/>
<path d="M576 530A380 380 0 0 1 632 543"/>
<path d="M576 530A380 380 0 0 1 640 604"/>
<path d="M576 530A380 380 0 0 1 524 683"/>
<path d="M576 530A380 380 0 0 1 331 556"/>
<path d="M576 530A380 380 0 0 1 245 530"/>
<path d="M576 530A380 380 0 0 1 385 762"/>
<path d="M598 342A380 380 0 0 1 407 366"/>
<path d="M598 342A380 380 0 0 1 576 530"/>
<path d="M598 342A380 380 0 0 1 331 556"/>
<path d="M598 342A380 380 0 0 1 505 207"/>
<path d="M703 364A380 380 0 0 1 407 366"/>
<path d="M702 455A380 380 0 0 1 331 556"/>
<path d="M640 604A380 380 0 0 1 331 556"/>
<path d="M602 655A380 380 0 0 1 331 556"/>
<path d="M661 765A380 380 0 0 1 466 525"/>
<path d="M524 683A380 380 0 0 1 385 762"/>
<path d="M524 683A380 380 0 0 1 466 525"/>
<path d="M602 655A380 380 0 0 1 385 762"/>
<path d="M600 725A380 380 0 0 1 466 525"/>
<path d="M640 604A380 380 0 0 1 466 525"/>
<path d="M661 765A400 400 0 0 1 385 762"/>
<path d="M661 765A400 400 0 0 1 307 784"/>
<path d="M660 694A380 380 0 0 1 460 593"/>
</g>
</g>
<g id="nodes">
<g id="n-u1" class="ng"><circle cx="466" cy="525" r="35"/></g>
<g id="n-u2" class="ng"><circle cx="245" cy="530" r="22"/></g>
<g id="n-u3" class="nr"><circle cx="576" cy="530" r="16"/></g>
<g id="n-u4" class="np"><circle cx="619" cy="459" r="15"/></g>
<g id="n-u5" class="nr"><circle cx="884" cy="636" r="14"/></g>
<g id="n-u6" class="nb"><circle cx="472" cy="366" r="13"/></g>
<g id="n-u7" class="nr"><circle cx="820" cy="600" r="13"/></g>
<g id="n-u8" class="ng"><circle cx="308" cy="339" r="12"/></g>
<g id="n-u9" class="ng"><circle cx="405" cy="563" r="12"/></g>
<g id="n-u10" class="nr"><circle cx="598" cy="342" r="11"/></g>
<g id="n-u11" class="ny"><circle cx="428" cy="290" r="10"/></g>
<g id="n-u12" class="nr"><circle cx="804" cy="230" r="10"/></g>
<g id="n-u13" class="nr"><circle cx="808" cy="537" r="10"/></g>
<g id="n-u14" class="np"><circle cx="644" cy="289" r="9"/></g>
<g id="n-u15" class="nr"><circle cx="700" cy="232" r="9"/></g>
<g id="n-u16" class="nr"><circle cx="703" cy="364" r="9"/></g>
<g id="n-u17" class="nr"><circle cx="781" cy="394" r="9"/></g>
<g id="n-u18" class="nr"><circle cx="852" cy="496" r="9"/></g>
<g id="n-u19" class="ny"><circle cx="516" cy="562" r="9"/></g>
<g id="n-u20" class="ny"><circle cx="574" cy="606" r="8"/></g>
<g id="n-u21" class="nr"><circle cx="524" cy="683" r="8"/></g>
<g id="n-u22" class="ny"><circle cx="507" cy="66" r="7"/></g>
<g id="n-u23" class="ny"><circle cx="539" cy="251" r="7"/></g>
<g id="n-u24" class="nb"><circle cx="571" cy="178" r="7"/></g>
<g id="n-u25" class="nb"><circle cx="344" cy="246" r="7"/></g>
<g id="n-u26" class="nb"><circle cx="349" cy="498" r="7"/></g>
<g id="n-u27" class="nr"><circle cx="860" cy="262" r="7"/></g>
<g id="n-u28" class="nr"><circle cx="862" cy="342" r="7"/></g>
<g id="n-u29" class="nr"><circle cx="790" cy="335" r="7"/></g>
<g id="n-u30" class="nr"><circle cx="737" cy="409" r="7"/></g>
<g id="n-u31" class="nr"><circle cx="702" cy="455" r="7"/></g>
<g id="n-u32" class="nr"><circle cx="917" cy="477" r="7"/></g>
<g id="n-u33" class="nr"><circle cx="632" cy="543" r="7"/></g>
<g id="n-u34" class="nr"><circle cx="706" cy="643" r="7"/></g>
<g id="n-u35" class="nr"><circle cx="712" cy="688" r="7"/></g>
<g id="n-u36" class="ng"><circle cx="239" cy="355" r="7"/></g>
<g id="n-u37" class="ng"><circle cx="263" cy="435" r="7"/></g>
<g id="n-u38" class="ng"><circle cx="124" cy="493" r="7"/></g>
<g id="n-u39" class="ng"><circle cx="195" cy="589" r="7"/></g>
<g id="n-u40" class="ng"><circle cx="307" cy="784" r="7"/></g>
<g id="n-u41" class="ny"><circle cx="664" cy="136" r="6"/></g>
<g id="n-u42" class="ny"><circle cx="372" cy="159" r="6"/></g>
<g id="n-u43" class="ny"><circle cx="409" cy="181" r="6"/></g>
<g id="n-u44" class="nb"><circle cx="583" cy="241" r="6"/></g>
<g id="n-u45" class="nb"><circle cx="410" cy="505" r="6"/></g>
<g id="n-u46" class="np"><circle cx="363" cy="600" r="6"/></g>
<g id="n-u47" class="np"><circle cx="475" cy="718" r="6"/></g>
<g id="n-u48" class="nr"><circle cx="912" cy="295" r="6"/></g>
<g id="n-u49" class="nr"><circle cx="847" cy="405" r="6"/></g>
<g id="n-u50" class="nr"><circle cx="688" cy="815" r="6"/></g>
<g id="n-u51" class="ng"><circle cx="69" cy="398" r="6"/></g>
<g id="n-u52" class="ng"><circle cx="204" cy="401" r="6"/></g>
<g id="n-u53" class="nb"><circle cx="388" cy="440" r="5"/></g>
<g id="n-training" class="nb"><circle cx="524" cy="358" r="4"/><text x="524" y="357" font-size="16.5">training</text></g>
<g id="n-resources" class="nb"><circle cx="560" cy="390" r="4"/><text x="559" y="390" font-size="16.5">resources</text></g>
<g id="n-india" class="nr"><circle cx="771" cy="569" r="5"/><text x="771" y="569" font-size="16.5">india</text></g>
<g id="n-compassion-satisfaction" class="nc"><circle cx="151" cy="120" r="7"/><text x="151" y="120" font-size="16.5">compassion satisfaction</text></g>
<g id="n-quality-of-life" class="nc"><circle cx="64" cy="252" r="6"/><text x="62" y="252" font-size="16.5">quality of life</text></g>
<g id="n-anxiety" class="ny"><circle cx="407" cy="22" r="6"/><text x="406" y="21" font-size="16.5">anxiety</text></g>
<g id="n-teacher-burnout" class="ny"><circle cx="586" cy="122" r="6"/><text x="586" y="121" font-size="16.5">teacher burnout</text></g>
<g id="n-supervisor-support" class="np"><circle cx="735" cy="87" r="6"/><text x="736" y="87" font-size="16">supervisor support</text></g>
<g id="n-systematic-review" class="nb"><circle cx="337" cy="434" r="6"/><text x="337" y="432" font-size="16.5">systematic review</text></g>
<g id="n-personal-resources" class="nr"><circle cx="922" cy="409" r="6"/><text x="923" y="408" font-size="16.5">personal resources</text></g>
<g id="n-organizational-justice" class="nr"><circle cx="878" cy="566" r="6"/><text x="878" y="566" font-size="16.3">organizational justice</text></g>
<g id="n-employee-well-being" class="nr"><circle cx="802" cy="667" r="6"/><text x="800" y="667" font-size="16.5">employee well-being</text></g>
<g id="n-autonomy" class="nr"><circle cx="660" cy="694" r="6"/><text x="659" y="693" font-size="16.5">autonomy</text></g>
<g id="n-job-characteristics" class="nr"><circle cx="600" cy="725" r="6"/><text x="601" y="723" font-size="16.2">job characteristics</text></g>
<g id="n-self-determination-theory" class="nr"><circle cx="776" cy="725" r="6"/><text x="775" y="723" font-size="16.3">self-determination theory</text></g>
<g id="n-moral-distress" class="ng"><circle cx="189" cy="491" r="6"/><text x="190" y="490" font-size="16.5">moral distress</text></g>
<g id="n-professional" class="ng"><circle cx="58" cy="508" r="6"/><text x="57" y="508" font-size="16.5">professional</text></g>
<g id="n-hospital" class="ng"><circle cx="122" cy="632" r="6"/><text x="123" y="632" font-size="16.5">hospital</text></g>
<g id="n-management" class="ng"><circle cx="314" cy="663" r="6"/><text x="317" y="661" font-size="16.4">management</text></g>
<g id="n-empowerment" class="ng"><circle cx="286" cy="712" r="6"/><text x="286" y="710" font-size="16.2">empowerment</text></g>
<g id="n-mindfulness" class="ny"><circle cx="550" cy="37" r="7"/><text x="551" y="37" font-size="17.5">mindfulness</text></g>
<g id="n-coping" class="nb"><circle cx="354" cy="97" r="7"/><text x="352" y="94" font-size="18">coping</text></g>
<g id="n-personality" class="nb"><circle cx="460" cy="150" r="7"/><text x="460" y="149" font-size="16.3">personality</text></g>
<g id="n-teacher" class="nb"><circle cx="452" cy="241" r="7"/><text x="452" y="241" font-size="16">teacher</text></g>
<g id="n-depersonalization" class="nb"><circle cx="719" cy="162" r="7"/><text x="717" y="161" font-size="16.5">depersonalization</text></g>
<g id="n-health" class="nb"><circle cx="421" cy="664" r="7"/><text x="421" y="663" font-size="16.5">health</text></g>
<g id="n-emotional-labor" class="nr"><circle cx="779" cy="467" r="7"/><text x="779" y="464" font-size="17.5">emotional labor</text></g>
<g id="n-job-crafting" class="nr"><circle cx="759" cy="807" r="7"/><text x="758" y="806" font-size="16.5">job crafting</text></g>
<g id="n-nursing-staff" class="ng"><circle cx="257" cy="601" r="7"/><text x="258" y="600" font-size="16.8">nursing staff</text></g>
<g id="n-hospitals" class="ng"><circle cx="168" cy="687" r="7"/><text x="168" y="683" font-size="16.5">hospitals</text></g>
<g id="n-workforce" class="ng"><circle cx="237" cy="803" r="7"/><text x="237" y="800" font-size="16.3">workforce</text></g>
<g id="n-quality-of-care" class="ng"><circle cx="345" cy="931" r="7"/><text x="344" y="931" font-size="16.5">quality of care</text></g>
<g id="n-compassion-fatigue" class="nc"><circle cx="144" cy="200" r="8"/><text x="143" y="200" font-size="18">compassion fatigue</text></g>
<g id="n-depression" class="ny"><circle cx="430" cy="92" r="8"/><text x="430" y="90" font-size="18">depression</text></g>
<g id="n-work-stress" class="nb"><circle cx="631" cy="210" r="8"/><text x="634" y="210" font-size="16.5">work stress</text></g>
<g id="n-motivation" class="nr"><circle cx="602" cy="655" r="8"/><text x="602" y="655" font-size="17.5">motivation</text></g>
<g id="n-performance" class="nr"><circle cx="661" cy="765" r="8"/><text x="662" y="762" font-size="17.5">performance</text></g>
<g id="n-retention" class="ng"><circle cx="397" cy="836" r="8"/><text x="396" y="834" font-size="17.5">retention</text></g>
<g id="n-occupational-health" class="ng"><circle cx="146" cy="376" r="9"/><text x="148" y="376" font-size="17.5">occupational health</text></g>
<g id="n-engagement" class="nr"><circle cx="640" cy="604" r="10"/><text x="640" y="606" font-size="19">engagement</text></g>
<g id="n-leadership" class="ng"><circle cx="460" cy="593" r="10"/><text x="462" y="591" font-size="19">leadership</text></g>
<g id="n-work-environment" class="ng"><circle cx="385" cy="762" r="10"/><text x="385" y="759" font-size="19.5">work environment</text></g>
<g id="n-resilience" class="nb"><circle cx="291" cy="272" r="11"/><text x="294" y="271" font-size="19.5">resilience</text></g>
<g id="n-social-support" class="ny"><circle cx="505" cy="207" r="12"/><text x="507" y="207" font-size="19.5">social support</text></g>
<g id="n-covid-19" class="ny"><circle cx="377" cy="307" r="12"/><text x="376" y="307" font-size="20">covid-19</text></g>
<g id="n-self-efficacy" class="nb"><circle cx="517" cy="296" r="12"/><text x="520" y="295" font-size="19.5">self-efficacy</text></g>
<g id="n-work-family-conflict" class="nr"><circle cx="760" cy="250" r="12"/><text x="762" y="249" font-size="19.5">work-family conflict</text></g>
<g id="n-nurse" class="ng"><circle cx="296" cy="482" r="13"/><text x="295" y="481" font-size="20">nurse</text></g>
<g id="n-job-demands" class="nr"><circle cx="775" cy="618" r="13"/><text x="776" y="622" font-size="19.5">job demands</text></g>
<g id="n-job-burnout" class="nr"><circle cx="668" cy="424" r="20"/><text x="668" y="424" font-size="22">job burnout</text></g>
<g id="n-emotional-exhaustion" class="nr"><circle cx="736" cy="326" r="21"/><text x="733" y="326" font-size="24">emotional exhaustion</text></g>
<g id="n-stress" class="nb"><circle cx="407" cy="366" r="22"/><text x="406" y="366" font-size="24">stress</text></g>
<g id="n-nurses" class="ng"><circle cx="331" cy="556" r="25"/><text x="330" y="556" font-size="25">nurses</text></g>
<g id="n-work-engagement" class="nr"><circle cx="731" cy="514" r="27"/><text x="732" y="517" font-size="25">work engagement</text></g>
<g id="n-burnout" class="nb"><circle cx="497" cy="462" r="46" style="fill-opacity:.8"/><text x="495" y="463" font-size="36">burnout</text></g>
</g>
<g id="node-overlay" class="np"><circle cx="472" cy="423" r="12" style="fill-opacity:.75"/></g>
</svg>
